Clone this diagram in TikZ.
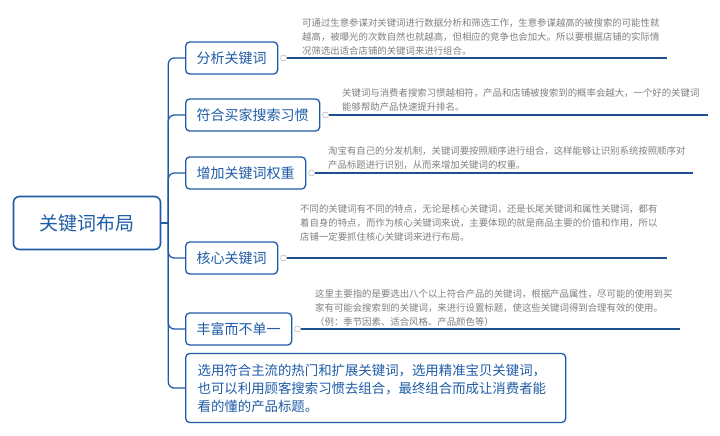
\documentclass[tikz,border=0pt]{standalone}
\usepackage{fontspec}
\setmainfont{Noto Sans CJK SC}
\usetikzlibrary{positioning,calc}
\definecolor{mapblue}{HTML}{1F5CA6}
\definecolor{linkblue}{HTML}{1E4F8E}
\definecolor{notegray}{HTML}{808080}

\begin{document}
\begin{tikzpicture}[x=1pt,y=-1pt,
    rootbox/.style={draw=mapblue,line width=1.6pt,rounded corners=6pt,text=mapblue,
      font=\fontsize{19}{22}\selectfont,minimum width=147pt,minimum height=53pt},
    topicbox/.style={draw=mapblue,line width=1.3pt,rounded corners=4pt,text=mapblue,fill=white,
      font=\fontsize{14}{17}\selectfont,inner xsep=11pt,minimum height=32pt,anchor=west},
    knob/.style={circle,draw=gray!60,fill=white,line width=0.5pt,inner sep=0pt,minimum size=6pt},
    note/.style={text=notegray,font=\fontsize{9.4}{14}\selectfont,align=left,inner sep=0pt,anchor=south west},
    branch/.style={draw=mapblue,line width=1.3pt,rounded corners=6pt},
    noteline/.style={draw=linkblue,line width=1.2pt}]

                    \useasboundingbox (0,0) rectangle (720,436);
                    \fill[white] (0,0) rectangle (720,436);

                    \node[rootbox] (root) at (87,223) {关键词布局};
                    \coordinate (trunk) at ($(root.east)+(7,0)$);

                    \node[topicbox] (b1) at (185,58) {分析关键词};
                    \node[topicbox] (b2) at (185,115) {符合买家搜索习惯};
                    \node[topicbox] (b3) at (185,173) {增加关键词权重};
                    \node[topicbox] (b4) at (185,258) {核心关键词};
                    \node[topicbox] (b5) at (185,329) {丰富而不单一};
                    \node[topicbox,text width=356pt,align=left,inner xsep=12pt,minimum height=69pt,
                      font=\fontsize{13.4}{18}\selectfont] (b6) at (185,388)
                      {选用符合主流的热门和扩展关键词，选用精准宝贝关键词，\\
                       也可以利用顾客搜索习惯去组合，最终组合而成让消费者能\\
                       看的懂的产品标题。};

                    \draw[branch] (root.east) -- (trunk);
                    \foreach \i in {1,...,6}
                        \draw[branch] (trunk) |- (b\i.west);

                    \node[note] (t1) at (302,55) {可通过生意参谋对关键词进行数据分析和筛选工作，生意参谋越高的被搜索的可能性就\\
                      越高，被曝光的次数自然也就越高，但相应的竞争也会加大。所以要根据店铺的实际情\\
                      况筛选出适合店铺的关键词来进行组合。};
                    \node[note] (t2) at (342,112) {关键词与消费者搜索习惯越相符，产品和店铺被搜索到的概率会越大，一个好的关键词\\
                      能够帮助产品快速提升排名。};
                    \node[note] (t3) at (328,170) {淘宝有自己的分发机制，关键词要按照顺序进行组合，这样能够让识别系统按照顺序对\\
                      产品标题进行识别，从而来增加关键词的权重。};
                    \node[note] (t4) at (300,241) {不同的关键词有不同的特点，无论是核心关键词，还是长尾关键词和属性关键词，都有\\
                      着自身的特点，而作为核心关键词来说，主要体现的就是商品主要的价值和作用，所以\\
                      店铺一定要抓住核心关键词来进行布局。};
                    \node[note] (t5) at (315,327) {这里主要指的是要选出八个以上符合产品的关键词，根据产品属性，尽可能的使用到买\\
                      家有可能会搜索到的关键词，来进行设置标题，使这些关键词得到合理有效的使用。\\
                      （例：季节因素、适合风格、产品颜色等）};

                    \foreach \i/\e/\y in {1/667/58,2/708/115,3/693/173,4/667/258,5/680/329} {
                        \coordinate (e\i) at (\e,\y);
                        \node[knob,right=2pt of b\i] (k\i) {};
                        \draw[noteline] (k\i) -- (e\i);
                    }
                \end{tikzpicture}
\end{document}
